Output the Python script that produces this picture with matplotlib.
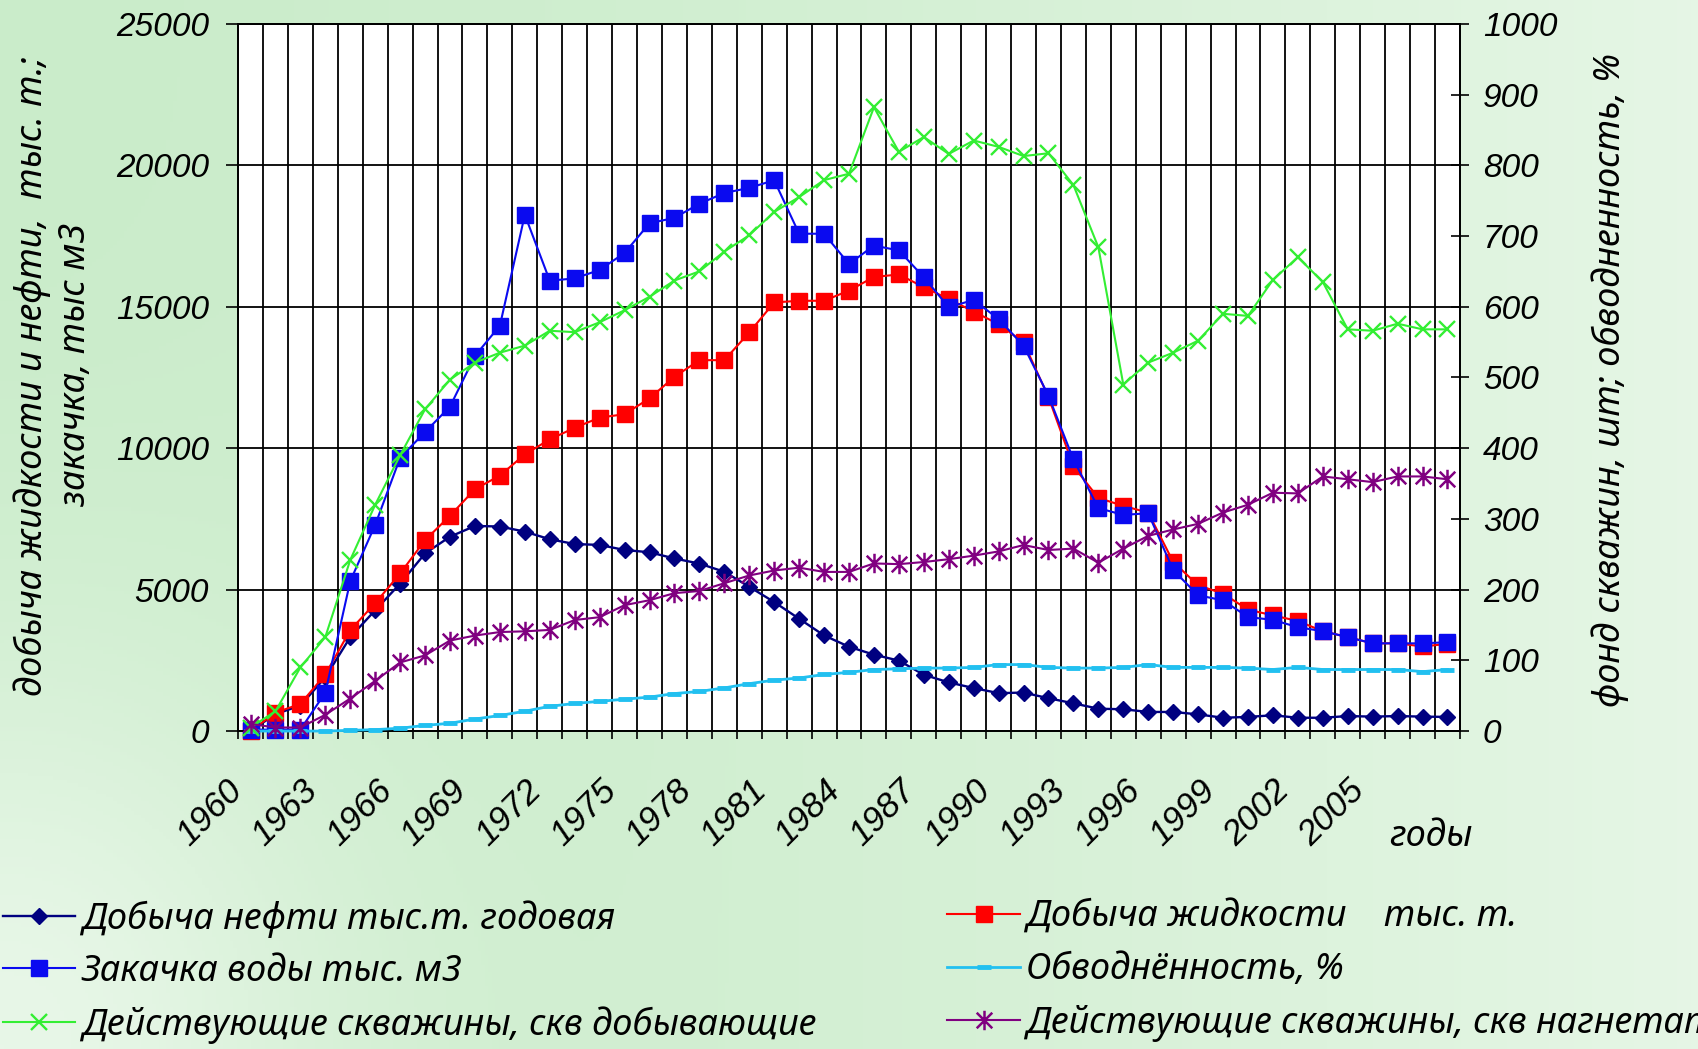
import numpy as np
import matplotlib as mpl
mpl.use('Agg')
import matplotlib.pyplot as plt
from matplotlib.path import Path
from matplotlib.font_manager import FontProperties
from matplotlib.transforms import ScaledTranslation

#=============
# Data
#=============
years = np.arange(1960, 2009)

# left axis, thousand t / thousand m3
oil = [0, 600, 900, 1900, 3320, 4270, 5210, 6280, 6870, 7250,
       7230, 7050, 6780, 6610, 6580, 6400, 6320, 6100, 5920, 5630,
       5100, 4560, 3970, 3380, 2980, 2700, 2490, 1990, 1720, 1520,
       1340, 1360, 1160, 980, 790, 770, 675, 675, 590, 470,
       500, 557, 470, 470, 530, 510, 530, 510, 500]
liquid = [0, 650, 960, 2000, 3570, 4520, 5570, 6750, 7610, 8550,
          9030, 9780, 10310, 10720, 11080, 11200, 11760, 12520, 13110, 13110,
          14090, 15150, 15210, 15210, 15570, 16050, 16140, 15690, 15270, 14830,
          14380, 13740, 11800, 9360, 8240, 7960, 7720, 5980, 5150, 4860,
          4290, 4090, 3890, 3530, 3320, 3100, 3100, 2990, 3080]
injection = [50, 50, 50, 1360, 5300, 7290, 9660, 10570, 11470, 13260,
             14330, 18250, 15920, 16000, 16300, 16900, 17950, 18140, 18640, 19020,
             19200, 19470, 17580, 17580, 16510, 17160, 16990, 16040, 14980, 15240,
             14560, 13620, 11850, 9600, 7880, 7640, 7700, 5690, 4800, 4620,
             4030, 3930, 3670, 3530, 3320, 3100, 3100, 3100, 3140]

# right axis, wells / %
watercut = [0, 0, 0, 0, 1, 2, 4, 8, 11, 17,
            22, 28, 35, 39, 42, 45, 48, 53, 56, 61,
            67, 72, 75, 80, 83, 87, 88, 89, 89, 90,
            94, 94, 90, 89, 89, 90, 94, 90, 90, 90,
            89, 87, 90, 87, 87, 87, 87, 84, 87]
prod_wells = [5, 28, 90, 133, 242, 320, 390, 455, 497, 521,
              535, 545, 566, 564, 578, 595, 614, 637, 650, 678,
              701, 734, 755, 779, 788, 882, 819, 840, 816, 835,
              826, 813, 817, 772, 684, 490, 521, 535, 552, 590,
              587, 638, 670, 635, 568, 566, 576, 568, 568]
inj_wells = [10, 5, 5, 23, 46, 71, 97, 107, 128, 135,
             140, 141, 143, 157, 161, 178, 185, 195, 198, 209,
             220, 227, 231, 225, 225, 237, 236, 239, 243, 248,
             254, 263, 256, 258, 238, 258, 276, 285, 293, 309,
             320, 337, 336, 360, 356, 352, 360, 360, 356]

lNames = ['Добыча нефти тыс.т. годовая',
          'Закачка воды тыс. м3',
          'Действующие скважины, скв добывающие',
          'Добыча жидкости    тыс. т.',
          'Обводнённость, %',
          'Действующие скважины, скв нагнетательные']

#=============
# Styles
#=============
numFont = FontProperties(family='Liberation Sans', style='italic', size=24)
xFont = FontProperties(family='Liberation Sans', style='italic', size=25)
txtFont = FontProperties(family='Noto Sans', style='italic', size=26)

star = Path([(-1, -1), (1, 1), (-1, 1), (1, -1), (0, -1.25), (0, 1.25)],
            [Path.MOVETO, Path.LINETO] * 3)

fig = plt.figure(figsize=(16.98, 10.49), dpi=100)

# light green gradient background
bg = fig.add_axes([0, 0, 1, 1], zorder=-10)
vv, uu = np.mgrid[0:1:300j, 0:1:480j]
g = 0.88 - 0.55 * uu**1.5 - 0.6 * np.exp(-(uu**2 / 0.04 + (1 - vv)**2 / 0.15))
g = np.clip(g, 0, 1)[..., None]
light = np.array([246, 252, 246]) / 255.
green = np.array([196, 234, 196]) / 255.
bg.imshow(light + g * (green - light), extent=[0, 1, 0, 1], aspect='auto')
bg.axis('off')

ax = fig.add_axes([0.1402, 0.3031, 0.7196, 0.6742])
ax.set_facecolor('white')
ax2 = ax.twinx()

x = np.arange(len(years))

p1, = ax.plot(x, oil, color='#000080', lw=1.7, marker='D', ms=8, clip_on=False, zorder=3)
p4, = ax.plot(x, liquid, color='#FF0000', lw=1.5, marker='s', ms=11, clip_on=False, zorder=4)
p2, = ax.plot(x, injection, color='#0A0AF0', lw=1.5, marker='s', ms=11, clip_on=False, zorder=5)
p5, = ax2.plot(x, watercut, color='#22C0F0', lw=2, marker='_', ms=10, mew=3.5, clip_on=False, zorder=3)
p3, = ax2.plot(x, prod_wells, color='#33EE33', lw=1.5, marker='x', ms=12, mew=1.7, clip_on=False, zorder=4)
p6, = ax2.plot(x, inj_wells, color='#800080', lw=1.5, marker=star, ms=14, mew=1.8,
               mfc='none', clip_on=False, zorder=5)

#------------------
# Axes and grid
#------------------
ax.set_xlim(-0.5, len(years) - 0.5)
ax.set_ylim(0, 25000)
ax2.set_ylim(0, 1000)

ax.set_xticks(np.arange(-0.5, len(years), 1))
ax.tick_params(axis='x', which='major', direction='out', length=6, width=1.2, labelbottom=False)
lab_idx = np.arange(0, 46, 3)
ax.set_xticks(lab_idx, labels=[str(y) for y in years[lab_idx]], minor=True,
              rotation=45, ha='right', va='top', rotation_mode='anchor',
              fontproperties=xFont)
ax.tick_params(axis='x', which='minor', length=0, pad=31)
offset = ScaledTranslation(-18 / 72., 0, fig.dpi_scale_trans)
for lab in ax.get_xticklabels(minor=True):
    lab.set_transform(lab.get_transform() + offset)

yt = np.arange(0, 25001, 5000)
ax.set_yticks(yt, labels=[str(v) for v in yt], fontproperties=numFont)
ax.tick_params(axis='y', direction='out', length=9, width=1.2, pad=12)

yt2 = np.arange(0, 1001, 100)
ax2.set_yticks(yt2, labels=[str(v) for v in yt2], fontproperties=numFont)
ax2.tick_params(axis='y', direction='inout', length=13, width=1.2, pad=10)

ax.set_axisbelow(True)
ax.grid(axis='x', which='major', color='black', lw=1.3)
ax.grid(axis='y', which='major', color='black', lw=1.3)
for a in (ax, ax2):
    for s in a.spines.values():
        s.set_color('black')
        s.set_linewidth(1.3)

#------------------
# Axis titles
#------------------
fig.text(0.0188, 0.6416, 'добыча жидкости и нефти,  тыс. т.;', rotation=90,
         ha='center', va='center', fontproperties=txtFont)
fig.text(0.0448, 0.653, 'закачка, тыс м3', rotation=90,
         ha='center', va='center', fontproperties=txtFont)
fig.text(0.948, 0.6377, 'фонд скважин, шт; обводненность, %', rotation=90,
         ha='center', va='center', fontproperties=txtFont)
fig.text(0.843, 0.202, 'годы', ha='center', va='center', fontproperties=txtFont)

#------------------
# Legend, two columns
#------------------
lg1 = fig.legend([p1, p2, p3], lNames[:3], loc='upper left', bbox_to_anchor=(0.0018, 0.142),
                 frameon=False, prop=txtFont, handlelength=2.0, handletextpad=0.18,
                 labelspacing=0.45, borderpad=0, borderaxespad=0, numpoints=1)
lg2 = fig.legend([p4, p5, p6], lNames[3:], loc='upper left', bbox_to_anchor=(0.558, 0.142),
                 frameon=False, prop=txtFont, handlelength=2.0, handletextpad=0.18,
                 labelspacing=0.45, borderpad=0, borderaxespad=0, numpoints=1)

fig.savefig('out.png', dpi=100)
